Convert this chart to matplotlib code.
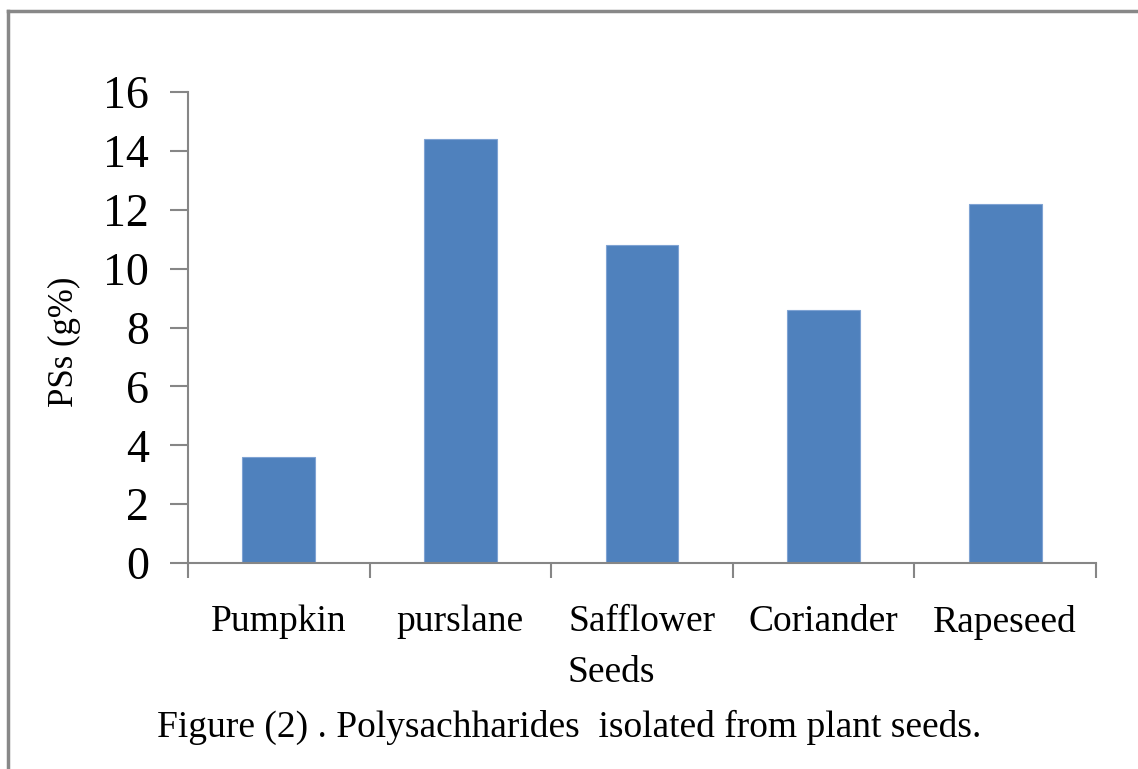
import matplotlib.pyplot as plt
from matplotlib.lines import Line2D

seeds = ['Pumpkin', 'purslane', 'Safflower', 'Coriander', 'Rapeseed']
pss = [3.6, 14.4, 10.8, 8.6, 12.2]
yticks = [0, 2, 4, 6, 8, 10, 12, 14, 16]

plt.rcParams['font.family'] = ['Liberation Serif', 'DejaVu Serif']

W, H = 1138, 769
fig = plt.figure(figsize=(W / 100, H / 100), dpi=100)
ax = fig.add_axes([188 / W, (H - 563) / H, (1096 - 188) / W, (563 - 92) / H])

x = range(len(seeds))
ax.bar(x, pss, width=0.4, color='#4F81BD', edgecolor='#7FA3D3', linewidth=0.8)
ax.set_xlim(-0.5, len(seeds) - 0.5)
ax.set_ylim(0, 16)
ax.set_yticks(yticks)
ax.set_yticklabels([str(t) for t in yticks], fontsize=33)

# category labels between tick marks, ticks at the boundaries
ax.set_xticks([i - 0.5 for i in range(len(seeds) + 1)])
ax.set_xticklabels([])
ax.set_xticks(list(x), minor=True)
ax.set_xticklabels(seeds, minor=True, fontsize=27)
ax.tick_params(axis='x', which='minor', length=0, pad=30)
ax.tick_params(axis='x', which='major', length=11, width=1.5, color='#868686')
ax.tick_params(axis='y', length=13, width=1.5, color='#868686', pad=15)

for s in ['top', 'right']:
    ax.spines[s].set_visible(False)
for s in ['left', 'bottom']:
    ax.spines[s].set_color('#868686')
    ax.spines[s].set_linewidth(1.5)

fig.text(64 / W, 1 - 342 / H, 'PSs (g%)', rotation=90, fontsize=25,
         ha='center', va='center')
fig.text(611 / W, 1 - 682 / H, 'Seeds', fontsize=27, ha='center', va='baseline')
fig.text(569 / W, 1 - 737 / H, 'Figure (2) . Polysachharides  isolated from plant seeds.',
         fontsize=27, ha='center', va='baseline')

# page frame (left and top edges)
fig.add_artist(Line2D([8 / W, 8 / W], [0, 1 - 11 / H], color='#888888', lw=2.5,
                      transform=fig.transFigure))
fig.add_artist(Line2D([8 / W, 1], [1 - 11 / H, 1 - 11 / H], color='#888888', lw=2.5,
                      transform=fig.transFigure))

plt.savefig('out.png', dpi=100)
